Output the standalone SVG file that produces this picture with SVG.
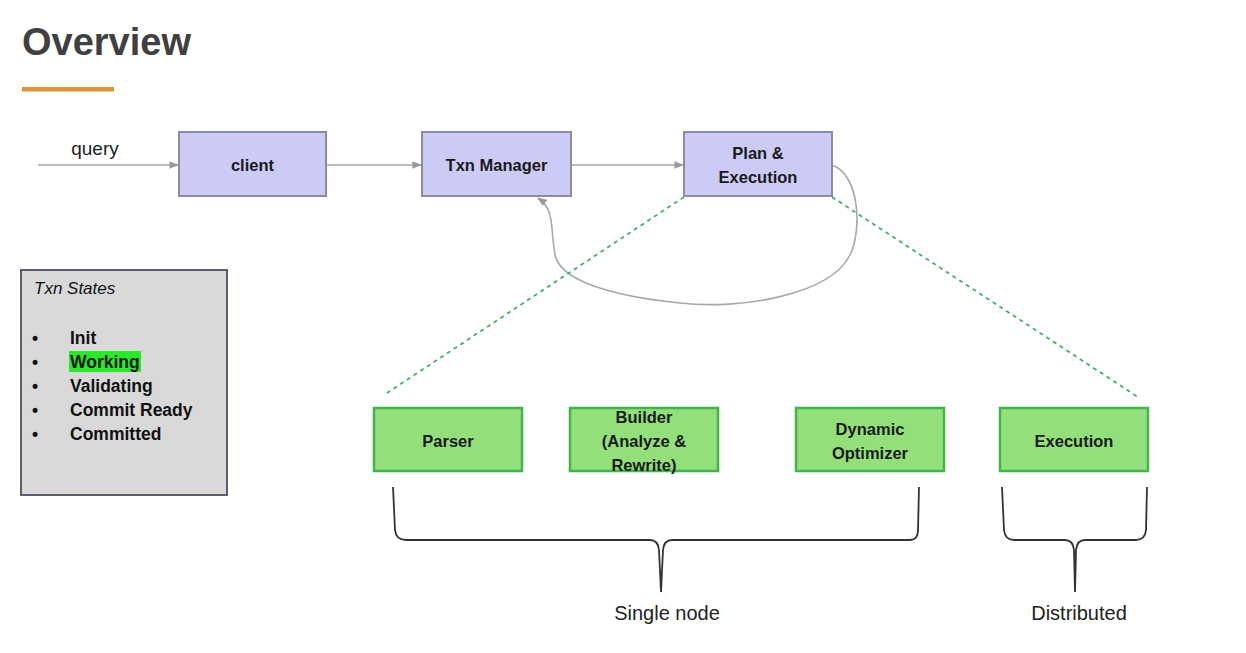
<svg xmlns="http://www.w3.org/2000/svg" width="1246" height="653" viewBox="0 0 1246 653">
<defs>
<style>
.lbl{font-family:"Liberation Sans",Arial,sans-serif;font-weight:bold;font-size:16.5px;fill:#1a1a1a;text-anchor:middle}
.blue{fill:#cbcbf6;stroke:#8c8c9c;stroke-width:2}
.green{fill:#93e07a;stroke:#3fb54a;stroke-width:2.5}
.conn{fill:none;stroke:#a8a8a8;stroke-width:1.6}
.dash{fill:none;stroke:#3db36a;stroke-width:1.8;stroke-dasharray:4 4}
.brace{fill:none;stroke:#333;stroke-width:1.8}
.state{font-family:"Liberation Sans",Arial,sans-serif;font-weight:bold;font-size:17.5px;fill:#111}
.plain{font-family:"Liberation Sans",Arial,sans-serif;font-size:20px;fill:#222;text-anchor:middle}
</style>
<marker id="arr" viewBox="0 0 10 10" refX="9" refY="5" markerWidth="6" markerHeight="6" orient="auto">
<path d="M0,1 L10,5 L0,9 z" fill="#999"/>
</marker>
</defs>
<rect width="1246" height="653" fill="#ffffff"/>
<g id="title">
<text x="22" y="55" font-family="'Liberation Sans',Arial,sans-serif" font-weight="bold" font-size="38" fill="#404040">Overview</text>
<rect x="22" y="87" width="92" height="4.5" fill="#e69138"/>
</g>
<g id="connectors">
<path class="conn" d="M38,165 L178,165" marker-end="url(#arr)"/>
<text x="95" y="155" text-anchor="middle" font-family="'Liberation Sans',Arial,sans-serif" font-size="19" fill="#222">query</text>
<path class="conn" d="M326,165 L421,165" marker-end="url(#arr)"/>
<path class="conn" d="M571,165 L683,165" marker-end="url(#arr)"/>
<path class="conn" d="M832,165 C860,175 862,230 850,255 C830,295 740,310 680,303 C610,296 560,280 555,255 C550,225 555,210 538,198" marker-end="url(#arr)"/>
<path class="dash" d="M684,197 L384,395"/>
<path class="dash" d="M832,197 L1138,397"/>
</g>
<g id="client">
<rect class="blue" x="179" y="132" width="147" height="64"/>
<text class="lbl" x="252.5" y="171">client</text>
</g>
<g id="txn-manager">
<rect class="blue" x="422" y="132" width="149" height="64"/>
<text class="lbl" x="496.5" y="171">Txn Manager</text>
</g>
<g id="plan-execution">
<rect class="blue" x="684" y="132" width="148" height="64"/>
<text class="lbl" x="758" y="159">Plan &amp;</text>
<text class="lbl" x="758" y="183">Execution</text>
</g>
<g id="txn-states">
<rect x="21" y="270" width="206" height="225" fill="#d9d9d9" stroke="#4a5060" stroke-width="1.8"/>
<text x="34" y="294" font-family="'Liberation Sans',Arial,sans-serif" font-style="italic" font-size="17" fill="#111">Txn States</text>
<rect x="69" y="351" width="72" height="21" fill="#22ee22"/>
<g class="state">
<text x="32" y="344">•</text><text x="70" y="344">Init</text>
<text x="32" y="368">•</text><text x="70" y="368">Working</text>
<text x="32" y="392">•</text><text x="70" y="392">Validating</text>
<text x="32" y="416">•</text><text x="70" y="416">Commit Ready</text>
<text x="32" y="440">•</text><text x="70" y="440">Committed</text>
</g>
</g>
<g id="parser">
<rect class="green" x="374" y="408" width="148" height="63"/>
<text class="lbl" x="448" y="447">Parser</text>
</g>
<g id="builder">
<rect class="green" x="570" y="408" width="148" height="63"/>
<text class="lbl" x="644" y="423">Builder</text>
<text class="lbl" x="644" y="447">(Analyze &amp;</text>
<text class="lbl" x="644" y="471">Rewrite)</text>
</g>
<g id="dynamic-optimizer">
<rect class="green" x="796" y="408" width="148" height="63"/>
<text class="lbl" x="870" y="435">Dynamic</text>
<text class="lbl" x="870" y="459">Optimizer</text>
</g>
<g id="execution">
<rect class="green" x="1000" y="408" width="148" height="63"/>
<text class="lbl" x="1074" y="447">Execution</text>
</g>
<g id="single-node">
<path class="brace" d="M393,487 L395,530 Q396,540 406,540 L650,540 Q658,540 659,550 L661,592 M661,592 L663,550 Q664,540 672,540 L910,540 Q918,540 918,530 L919,487"/>
<text class="plain" x="667" y="620">Single node</text>
</g>
<g id="distributed">
<path class="brace" d="M1002,487 L1004,530 Q1005,540 1014,540 L1065,540 Q1073,540 1074,550 L1075,592 M1075,592 L1076,550 Q1077,540 1085,540 L1136,540 Q1145,540 1146,530 L1147,487"/>
<text class="plain" x="1079" y="620">Distributed</text>
</g>
</svg>
